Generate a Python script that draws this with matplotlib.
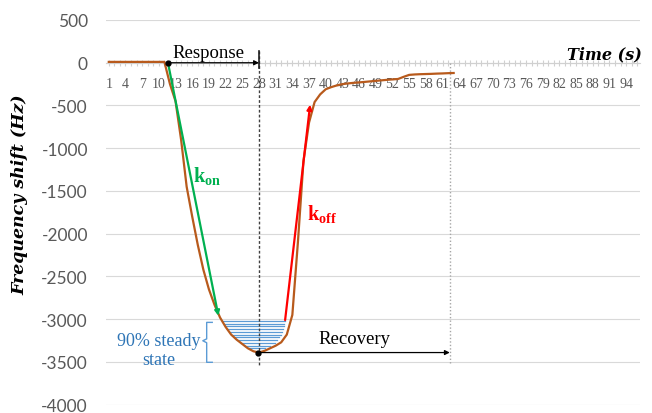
import matplotlib
matplotlib.use("Agg")
import matplotlib.pyplot as plt
import numpy as np

# frequency shift (Hz) for t = 1 .. 63 s
time_s = np.arange(1, 64)
freq_shift = [10, 10, 10, 10, 10, 10, 10, 10, 10, 10, 10,
              -250, -450, -900, -1450, -1800, -2130, -2420, -2650, -2830,
              -2980, -3090, -3180, -3240, -3290, -3340, -3375, -3390, -3370,
              -3340, -3310, -3270, -3180, -2950, -2100, -1150, -700, -460,
              -370, -310, -285, -265, -250, -242, -235, -230, -224, -218,
              -212, -206, -200, -195, -190, -165, -142, -137, -134, -132,
              -130, -127, -125, -122, -120]

n_categories = 96
x_labels = list(range(1, 95, 3))
y_ticks = list(range(-4000, 501, 500))

kon_line = ([11.7, 20.7], [-20, -2960])
koff_line = ([32.7, 37.2], [-3010, -490])
response_span = (11.7, 28)
recovery_span = (27.9, 62.3)
recovery_level = -3390
steady_levels = np.arange(-3020, -3350, -32)

brown = '#B85A1C'
green = '#00B050'
red = '#FF0000'
blue_line = '#5B9BD5'
blue_text = '#2E75B6'
gray_text = '#595959'

plt.rcParams['mathtext.fontset'] = 'custom'
plt.rcParams['mathtext.bf'] = 'Liberation Serif:bold'
plt.rcParams['mathtext.rm'] = 'Liberation Serif'

fig = plt.figure(figsize=(6.52, 4.14), dpi=100)
ax = fig.add_axes([106 / 652, 1 - 405.7 / 414, 534 / 652, (405.7 - 21) / 414])

ax.set_xlim(0.5, n_categories + 0.5)
ax.set_ylim(-4000, 500)

# gridlines
for y in y_ticks:
    ax.axhline(y, color='#D9D9D9', lw=0.8, zorder=0)

for s in ['top', 'right', 'left']:
    ax.spines[s].set_visible(False)
ax.spines['bottom'].set_position(('data', 0))
ax.spines['bottom'].set_color('#D0D0D0')
ax.spines['bottom'].set_linewidth(0.8)

ax.set_xticks(x_labels)
ax.set_xticklabels([str(v) for v in x_labels], family='Liberation Serif',
                   fontsize=10, color=gray_text)
ax.set_xticks(np.arange(1, n_categories + 1), minor=True)
ax.tick_params(axis='x', which='both', direction='inout', length=5,
               color='#D0D0D0', width=0.8, pad=8)

ax.set_yticks(y_ticks)
ax.set_yticklabels([str(v) for v in y_ticks], family='Lato', fontsize=12.5,
                   color=gray_text)
ax.tick_params(axis='y', length=0, pad=13)

# 90% steady state hatching
t_arr = np.array(time_s, dtype=float)
f_arr = np.array(freq_shift, dtype=float)
imin = int(np.argmin(f_arr))
for lev in steady_levels:
    xl = np.interp(lev, f_arr[:imin + 1][::-1], t_arr[:imin + 1][::-1])
    xr = np.interp(lev, f_arr[imin:], t_arr[imin:])
    ax.plot([xl + 0.2, xr - 1.0], [lev, lev], color=blue_line, lw=0.9, zorder=2)

# brace + label
bx = [19.6, 18.6, 18.6, 17.9, 18.6, 18.6, 19.6]
by = [-3037, -3037, -3230, -3252, -3275, -3504, -3504]
ax.plot(bx, by, color=blue_line, lw=1, zorder=2)
ax.text(10.0, -3360, '90% steady\nstate', family='Liberation Serif', fontsize=13,
        color=blue_text, ha='center', va='center', linespacing=1.15)

# vertical guide lines
ax.plot([28, 28], [135, -3530], color='#404040', lw=1, ls=(0, (2, 1.5)), zorder=3)
ax.plot([28, 28], [135, -60], color='#202020', lw=1.2, zorder=3)
ax.plot([recovery_span[1]] * 2, [0, -3520], color='#A6A6A6', lw=1,
        ls=(0, (1, 1.5)), zorder=3)

# main curve
ax.plot(time_s, freq_shift, color=brown, lw=1.6, zorder=4)

# kon / koff lines
ax.annotate('', xy=(kon_line[0][1], kon_line[1][1]), xytext=(kon_line[0][0], kon_line[1][0]),
            arrowprops=dict(arrowstyle='-|>', color=green, lw=1.6, mutation_scale=7,
                            shrinkA=0, shrinkB=0), zorder=5)
ax.annotate('', xy=(koff_line[0][1], koff_line[1][1]), xytext=(koff_line[0][0], koff_line[1][0]),
            arrowprops=dict(arrowstyle='-|>', color=red, lw=1.6, mutation_scale=7,
                            shrinkA=0, shrinkB=0), zorder=5)
ax.text(16.1, -1385, r'$\mathbf{k_{on}}$', color=green, fontsize=14.5,
        ha='left', va='baseline', zorder=6)
ax.text(36.7, -1829, r'$\mathbf{k_{off}}$', color=red, fontsize=14.5,
        ha='left', va='baseline', zorder=6)

# response / recovery arrows
ax.annotate('', xy=(response_span[1], 0), xytext=(response_span[0], 0),
            arrowprops=dict(arrowstyle='-|>', color='black', lw=0.9, mutation_scale=7,
                            shrinkA=0, shrinkB=0), zorder=6)
ax.plot(response_span[0], 0, 'o', color='black', ms=3.5, zorder=6)
ax.text(19.0, 25, 'Response', family='Liberation Serif', fontsize=13.5,
        ha='center', va='bottom', zorder=6)

ax.annotate('', xy=(recovery_span[1], recovery_level), xytext=(recovery_span[0], recovery_level),
            arrowprops=dict(arrowstyle='-|>', color='black', lw=0.9, mutation_scale=7,
                            shrinkA=0, shrinkB=0), zorder=6)
ax.plot(recovery_span[0], recovery_level, 'o', color='black', ms=3.5, zorder=6)
ax.text(sum(recovery_span) / 2, -3330, 'Recovery', family='Liberation Serif',
        fontsize=13.5, ha='center', va='bottom', zorder=6)

# axis titles
fig.text(642 / 652, 1 - 55 / 414, 'Time (s)', family='DejaVu Serif', weight='bold',
         style='italic', fontsize=11.5, ha='right', va='center')
fig.text(20 / 652, 1 - 195 / 414, 'Frequency shift (Hz)', family='DejaVu Serif',
         weight='bold', style='italic', fontsize=12.5, rotation=90,
         ha='center', va='center')

fig.savefig('out.png', dpi=100)
